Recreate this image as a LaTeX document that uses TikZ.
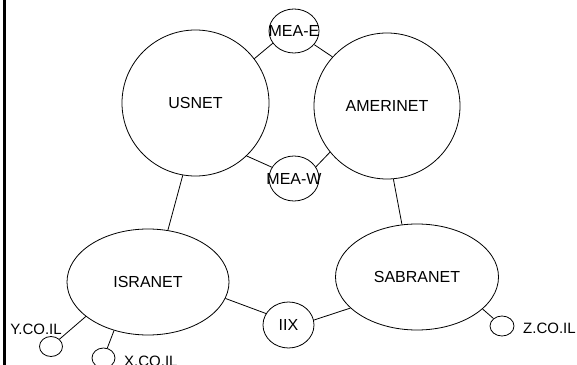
\documentclass[tikz,border=0pt]{standalone}
\usepackage{fontspec}
\setmainfont{Liberation Sans}
\usetikzlibrary{shapes.geometric}
\begin{document}
\begin{tikzpicture}[x=1pt,y=1pt,
  txt/.style={font=\fontsize{16}{16}\selectfont,inner sep=0pt},
  net/.style={ellipse,draw,line width=0.8pt,inner sep=0pt,txt},
  xp/.style={ellipse,draw,line width=0.8pt,inner sep=0pt,label={[txt]center:#1}},
  host/.style={ellipse,draw,line width=0.8pt,inner sep=0pt,minimum width=23pt,minimum height=20pt},
  lbl/.style={font=\fontsize{15}{15}\selectfont,inner sep=0pt},
  link/.style={line width=0.8pt}]
\useasboundingbox (0,0) rectangle (577,364);
\draw[line width=3.3pt] (4.3,-5) -- (4.3,370);
% large networks
\node[net,minimum width=147pt,minimum height=146pt] (usnet) at (195.5,261) {USNET};
\node[net,minimum width=146pt,minimum height=146pt] (amerinet) at (387,258) {AMERINET};
\node[net,minimum width=162pt,minimum height=106pt] (isranet) at (148,82) {ISRANET};
\node[net,minimum width=163pt,minimum height=106pt] (sabranet) at (417,87) {SABRANET};
% exchange points
\node[xp=MEA-E,minimum width=50pt,minimum height=44pt] (meae) at (294,333) {};
\node[xp=MEA-W,minimum width=50pt,minimum height=45pt] (meaw) at (294,185.5) {};
\node[xp=IIX,minimum width=51pt,minimum height=46pt] (iix) at (288.5,39) {};
% hosts
\node[host] (yco) at (51,17.5) {};
\node[host] (xco) at (103.5,6) {};
\node[host,minimum width=24pt] (zco) at (502,38) {};
\node[lbl] (ylbl) at (36,35) {Y.CO.IL};
\node[lbl,anchor=west] (xlbl) at (124,2.5) {X.CO.IL};
\node[lbl,anchor=west] (zlbl) at (523,36) {Z.CO.IL};
% links
\draw[link] (usnet.37) -- (meae.210);
\draw[link] (meae.326) -- (amerinet.138);
\draw[link] (usnet.314) -- (meaw.153);
\draw[link] (amerinet.219) -- (meaw.28);
\draw[link] (usnet.260) -- (isranet.69);
\draw[link] (amerinet.275) -- (sabranet.106);
\draw[link] (isranet.348) -- (iix.153);
\draw[link] (sabranet.205) -- (iix.11);
\draw[link] (isranet.209) -- (yco);
\draw[link] (isranet.235) -- (xco);
\draw[link] (sabranet.334) -- (zco);
\end{tikzpicture}
\end{document}
